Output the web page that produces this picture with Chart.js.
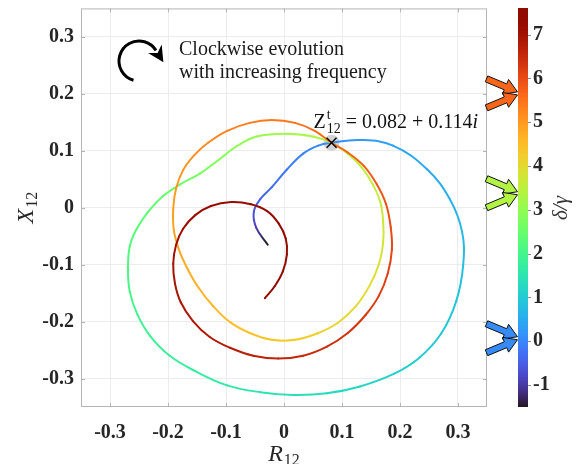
<!DOCTYPE html>
<html>
<head>
<meta charset="utf-8">
<script src="https://cdn.jsdelivr.net/npm/chart.js@4.4.1/dist/chart.umd.min.js"></script>
<style>
html,body{margin:0;padding:0;background:#fff;}
canvas{display:block;}
</style>
</head>
<body>
<canvas id="c" width="583" height="464"></canvas>
<script>
// ---------------- data (ordered by increasing δ/γ) ----------------
const R12 = [
 -0.028,-0.048,-0.052,-0.041,-0.021,0.005,0.033,0.059,0.082,
 0.131,0.188,0.247,0.286,0.307,0.309,0.297,0.271,0.234,0.191,0.131,0.074,0.016,-0.041,-0.098,-0.153,-0.197,-0.231,-0.253,-0.266,-0.269,-0.266,-0.255,-0.234,-0.209,-0.179,-0.145,-0.114,-0.083,-0.047,0.005,0.050,0.082,
 0.110,0.134,0.153,0.166,0.171,0.171,0.164,0.148,0.124,0.093,0.057,0.019,-0.021,-0.059,-0.093,-0.122,-0.147,-0.166,-0.181,-0.190,-0.191,-0.186,-0.174,-0.155,-0.131,-0.098,-0.059,-0.021,0.019,0.053,0.082,
 0.110,0.138,0.160,0.176,0.184,0.186,0.179,0.164,0.141,0.110,0.074,0.033,-0.010,-0.053,-0.093,-0.128,-0.157,-0.178,-0.188,-0.191,-0.186,-0.174,-0.153,-0.126,-0.091,-0.057,-0.029,-0.009,0.003,0.005,-0.002,-0.016,-0.033
];
const X12 = [
 -0.065,-0.035,-0.007,0.015,0.036,0.067,0.095,0.109,0.114,
 0.119,0.109,0.067,0.015,-0.042,-0.100,-0.164,-0.221,-0.263,-0.291,-0.314,-0.326,-0.329,-0.324,-0.312,-0.287,-0.260,-0.225,-0.187,-0.147,-0.107,-0.068,-0.039,-0.007,0.020,0.041,0.060,0.083,0.107,0.125,0.130,0.125,0.114,
 0.095,0.071,0.041,0.010,-0.025,-0.060,-0.098,-0.136,-0.173,-0.202,-0.221,-0.232,-0.232,-0.220,-0.201,-0.173,-0.141,-0.108,-0.074,-0.039,-0.002,0.034,0.066,0.092,0.114,0.135,0.149,0.154,0.149,0.135,0.114,
 0.097,0.073,0.041,0.006,-0.034,-0.074,-0.115,-0.154,-0.188,-0.220,-0.244,-0.260,-0.265,-0.260,-0.246,-0.227,-0.199,-0.166,-0.133,-0.098,-0.065,-0.037,-0.013,0.003,0.010,0.006,-0.006,-0.028,-0.054,-0.082,-0.112,-0.138,-0.159
];
const DELTA = [
 -1.5,-0.9,-0.62,-0.48,-0.35,-0.17,-0.03,0.05,0.1,
 0.25,0.38,0.5,0.6,0.7,0.8,0.9,0.98,1.05,1.12,1.2,1.3,1.4,1.52,1.62,1.72,1.8,1.88,1.96,2.04,2.12,2.2,2.27,2.36,2.48,2.6,2.72,2.84,2.96,3.07,3.2,3.3,3.38,
 3.46,3.53,3.59,3.65,3.71,3.77,3.84,3.92,4.0,4.08,4.16,4.25,4.33,4.41,4.49,4.57,4.65,4.72,4.79,4.86,4.93,5.0,5.07,5.13,5.2,5.28,5.37,5.44,5.52,5.59,5.66,
 5.72,5.79,5.86,5.93,6.0,6.07,6.14,6.21,6.28,6.36,6.44,6.52,6.59,6.66,6.73,6.79,6.85,6.91,6.96,7.01,7.06,7.11,7.16,7.21,7.26,7.31,7.36,7.41,7.45,7.49,7.53,7.57,7.6
];
const TARGET_R = 0.082;
const TARGET_X = 0.114;
const RESONANCE_DELTA = [5.66, 3.38, 0.07];
const X_TICKS = [-0.3,-0.2,-0.1,0,0.1,0.2,0.3];
const X_TICK_LABELS = ['-0.3','-0.2','-0.1','0','0.1','0.2','0.3'];
const Y_TICKS = [-0.3,-0.2,-0.1,0,0.1,0.2,0.3];
const Y_TICK_LABELS = ['-0.3','-0.2','-0.1','0','0.1','0.2','0.3'];
const CB_TICKS = [-1,0,1,2,3,4,5,6,7];
const CB_TICK_LABELS = ['-1','0','1','2','3','4','5','6','7'];
const CB_MIN = -1.5, CB_MAX = 7.6;
const AXIS_MIN = -0.35, AXIS_MAX = 0.35;
const CURVE_TENSION = 0.4;

// ---------------- helpers ----------------
function turbo(t){
  t = Math.max(0, Math.min(1, t));
  const r = 0.13572138 + t*(4.61539260 + t*(-42.66032258 + t*(132.13108234 + t*(-152.94239396 + t*59.28637943))));
  const g = 0.09140261 + t*(2.19418839 + t*(4.84296658 + t*(-14.18503333 + t*(4.27729857 + t*2.82956604))));
  const b = 0.10667330 + t*(12.64194608 + t*(-60.58204836 + t*(110.36276771 + t*(-89.90310912 + t*27.34824973))));
  const c = v => Math.round(255*Math.max(0, Math.min(1, v)));
  return 'rgb(' + c(r) + ',' + c(g) + ',' + c(b) + ')';
}
const dcol = d => turbo((d - CB_MIN) / (CB_MAX - CB_MIN));

const curve = R12.map((r, i) => ({x: r, y: X12[i]}));
const canvasCtx = document.getElementById('c').getContext('2d');

function segColor(sc){
  const i0 = sc.p0DataIndex, i1 = sc.p1DataIndex;
  const g = canvasCtx.createLinearGradient(sc.p0.x, sc.p0.y, sc.p1.x, sc.p1.y);
  g.addColorStop(0, dcol(DELTA[i0]));
  g.addColorStop(1, dcol(DELTA[i1]));
  return g;
}

const SERIF = '"Liberation Serif", "Times New Roman", serif';
const TICK_FONT = {family: SERIF, size: 20, weight: 'bold'};
const TXT = '#262626';

function noPad(s){ s.paddingTop = 0; s.paddingBottom = 0; s.paddingLeft = 0; s.paddingRight = 0; }

function blockArrow(ctx, sx, sy, tx, ty, fill){
  const dx = tx - sx, dy = ty - sy, L = Math.hypot(dx, dy);
  const ux = dx / L, uy = dy / L, px = -uy, py = ux;
  const hl = 13, hw = 8, sw = 3.2;
  const bx = tx - ux*hl, by = ty - uy*hl;
  ctx.beginPath();
  ctx.moveTo(sx + px*sw, sy + py*sw);
  ctx.lineTo(bx + px*sw, by + py*sw);
  ctx.lineTo(bx + px*hw, by + py*hw);
  ctx.lineTo(tx, ty);
  ctx.lineTo(bx - px*hw, by - py*hw);
  ctx.lineTo(bx - px*sw, by - py*sw);
  ctx.lineTo(sx - px*sw, sy - py*sw);
  ctx.closePath();
  ctx.fillStyle = fill; ctx.fill();
  ctx.strokeStyle = '#111'; ctx.lineWidth = 1; ctx.stroke();
}

function subText(ctx, main, sub, mainFont, subFont, x, y, subDy){
  ctx.font = mainFont; ctx.fillText(main, x, y);
  const w = ctx.measureText(main).width;
  ctx.font = subFont; ctx.fillText(sub, x + w + 1, y + subDy);
  return w + 1 + ctx.measureText(sub).width;
}

const decor = {
  id: 'decor',
  afterDraw(chart){
    const {ctx, chartArea: a, scales: {x, y, c}} = chart;
    ctx.save();
    // box and inward ticks
    ctx.strokeStyle = '#b5b5b5'; ctx.lineWidth = 1;
    ctx.strokeRect(a.left + 0.5, a.top + 0.5, a.right - a.left - 1, a.bottom - a.top - 1);
    ctx.beginPath();
    X_TICKS.forEach(v => { const p = Math.round(x.getPixelForValue(v)) + 0.5;
      ctx.moveTo(p, a.bottom); ctx.lineTo(p, a.bottom - 4); ctx.moveTo(p, a.top); ctx.lineTo(p, a.top + 4); });
    Y_TICKS.forEach(v => { const p = Math.round(y.getPixelForValue(v)) + 0.5;
      ctx.moveTo(a.left, p); ctx.lineTo(a.left + 4, p); ctx.moveTo(a.right, p); ctx.lineTo(a.right - 4, p); });
    ctx.stroke();

    // colorbar
    const cbL = c.left + 31, cbW = 10;
    const top = Math.round(c.getPixelForValue(CB_MAX)), bot = Math.round(c.getPixelForValue(CB_MIN));
    for (let p = top; p < bot; p++) {
      ctx.fillStyle = dcol(c.getValueForPixel(p + 0.5));
      ctx.fillRect(cbL, p, cbW, 1);
    }
    ctx.strokeStyle = '#8a8a8a'; ctx.lineWidth = 1;
    ctx.beginPath();
    CB_TICKS.forEach(v => { const p = Math.round(c.getPixelForValue(v)) + 0.5;
      ctx.moveTo(cbL + cbW, p); ctx.lineTo(cbL + cbW + 3, p); });
    ctx.stroke();

    // arrows pointing at resonance values on the colorbar
    RESONANCE_DELTA.forEach(v => {
      const ty = c.getPixelForValue(v), tx = cbL - 0.5;
      blockArrow(ctx, tx - 31, ty - 14.5, tx, ty - 1.5, dcol(v));
      blockArrow(ctx, tx - 31, ty + 14.5, tx, ty + 1.5, dcol(v));
    });

    // colorbar label
    ctx.fillStyle = '#333';
    ctx.save();
    ctx.translate(561, 208);
    ctx.rotate(-Math.PI / 2);
    ctx.textAlign = 'center'; ctx.textBaseline = 'middle';
    ctx.font = 'italic 21px ' + SERIF;
    ctx.fillText('δ/γ', 0, 0);
    ctx.restore();

    // axis titles
    ctx.fillStyle = TXT; ctx.textBaseline = 'alphabetic'; ctx.textAlign = 'left';
    ctx.font = 'italic 24px ' + SERIF;
    const rw = ctx.measureText('R').width; ctx.font = '16px ' + SERIF; const sw = ctx.measureText('12').width;
    const xc = (a.left + a.right) / 2;
    subText(ctx, 'R', '12', 'italic 24px ' + SERIF, '16px ' + SERIF, xc - (rw + 1 + sw) / 2, 461, 4);
    ctx.save();
    ctx.translate(33, (a.top + a.bottom) / 2);
    ctx.rotate(-Math.PI / 2);
    ctx.font = 'italic 24px ' + SERIF;
    const xw = ctx.measureText('X').width;
    subText(ctx, 'X', '12', 'italic 24px ' + SERIF, '16px ' + SERIF, -(xw + 1 + sw) / 2, 0, 4);
    ctx.restore();

    // annotation: clockwise evolution
    ctx.fillStyle = '#1a1a1a';
    ctx.font = '20px ' + SERIF;
    ctx.fillText('Clockwise evolution', 179, 55);
    ctx.fillText('with increasing frequency', 179, 78);
    const cx = 139, cy = 61, rr = 20;
    const a0 = 106 * Math.PI / 180, a1 = 328 * Math.PI / 180;
    ctx.strokeStyle = '#000'; ctx.lineWidth = 3; ctx.lineCap = 'butt';
    ctx.beginPath(); ctx.arc(cx, cy, rr, a0, a1); ctx.stroke();
    const ex = cx + rr * Math.cos(a1), ey = cy + rr * Math.sin(a1);
    const tx = -Math.sin(a1), ty = Math.cos(a1);
    const tipx = ex + tx * 14, tipy = ey + ty * 14;
    ctx.beginPath();
    ctx.moveTo(tipx, tipy);
    ctx.lineTo(ex - tx * 2 + ty * 8, ey - ty * 2 - tx * 8);
    ctx.lineTo(ex + tx * 3, ey + ty * 3);
    ctx.lineTo(ex - tx * 2 - ty * 8, ey - ty * 2 + tx * 8);
    ctx.closePath(); ctx.fillStyle = '#000'; ctx.fill();

    // target label
    const mx = x.getPixelForValue(TARGET_R), my = y.getPixelForValue(TARGET_X);
    let lx = mx - 18, ly = my - 15;
    ctx.fillStyle = '#111';
    ctx.font = '20px ' + SERIF; ctx.fillText('Z', lx, ly);
    const zw = ctx.measureText('Z').width;
    ctx.font = '14px ' + SERIF; ctx.fillText('t', lx + zw + 1, ly - 9); ctx.fillText('12', lx + zw + 1, ly + 5);
    const w12 = ctx.measureText('12').width;
    lx += zw + 1 + w12;
    const s = ' = ' + TARGET_R.toFixed(3) + ' + ' + TARGET_X.toFixed(3);
    ctx.font = '20px ' + SERIF; ctx.fillText(s, lx, ly);
    lx += ctx.measureText(s).width;
    ctx.font = 'italic 20px ' + SERIF; ctx.fillText('i', lx, ly);
    ctx.restore();
  }
};

new Chart(canvasCtx, {
  type: 'scatter',
  data: {
    datasets: [
      { data: [{x: TARGET_R, y: TARGET_X}], pointStyle: 'circle', pointRadius: 8,
        backgroundColor: 'rgba(205,205,205,0.9)', borderWidth: 0, order: 4 },
      { type: 'line', data: curve, pointRadius: 0, borderWidth: 2, tension: CURVE_TENSION,
        cubicInterpolationMode: 'default', fill: false,
        borderCapStyle: 'round', borderJoinStyle: 'round',
        borderColor: dcol(0),
        segment: { borderColor: segColor },
        order: 3 },
      { data: [{x: TARGET_R, y: TARGET_X}], pointStyle: 'crossRot', pointRadius: 7,
        borderColor: '#000', backgroundColor: '#000', borderWidth: 1.4, order: 1 }
    ]
  },
  options: {
    responsive: false, animation: false, devicePixelRatio: 1,
    layout: {padding: {top: 4, left: 0, right: 0, bottom: 0}},
    plugins: {legend: {display: false}, tooltip: {enabled: false}},
    scales: {
      x: {
        type: 'linear', min: AXIS_MIN, max: AXIS_MAX,
        afterBuildTicks: s => { s.ticks = X_TICKS.map(v => ({value: v})); },
        afterFit: s => { s.height = 57; noPad(s); },
        grid: {color: '#ececec', drawTicks: false},
        border: {display: false},
        ticks: {padding: 14, font: TICK_FONT, color: TXT, maxRotation: 0,
                callback: (v, i) => X_TICK_LABELS[i]}
      },
      y: {
        type: 'linear', min: AXIS_MIN, max: AXIS_MAX,
        afterBuildTicks: s => { s.ticks = Y_TICKS.map(v => ({value: v})); },
        afterFit: s => { s.width = 81; noPad(s); },
        grid: {color: '#ececec', drawTicks: false},
        border: {display: false},
        ticks: {padding: 7, font: TICK_FONT, color: TXT,
                callback: (v, i) => Y_TICK_LABELS[i]}
      },
      c: {
        type: 'linear', position: 'right', axis: 'y', min: CB_MIN, max: CB_MAX,
        afterBuildTicks: s => { s.ticks = CB_TICKS.map(v => ({value: v})); },
        afterFit: s => { s.width = 96; noPad(s); },
        grid: {display: false, drawTicks: false},
        border: {display: false},
        ticks: {padding: 46, font: TICK_FONT, color: TXT,
                callback: (v, i) => CB_TICK_LABELS[i]}
      }
    }
  },
  plugins: [decor]
});
</script>
</body>
</html>
